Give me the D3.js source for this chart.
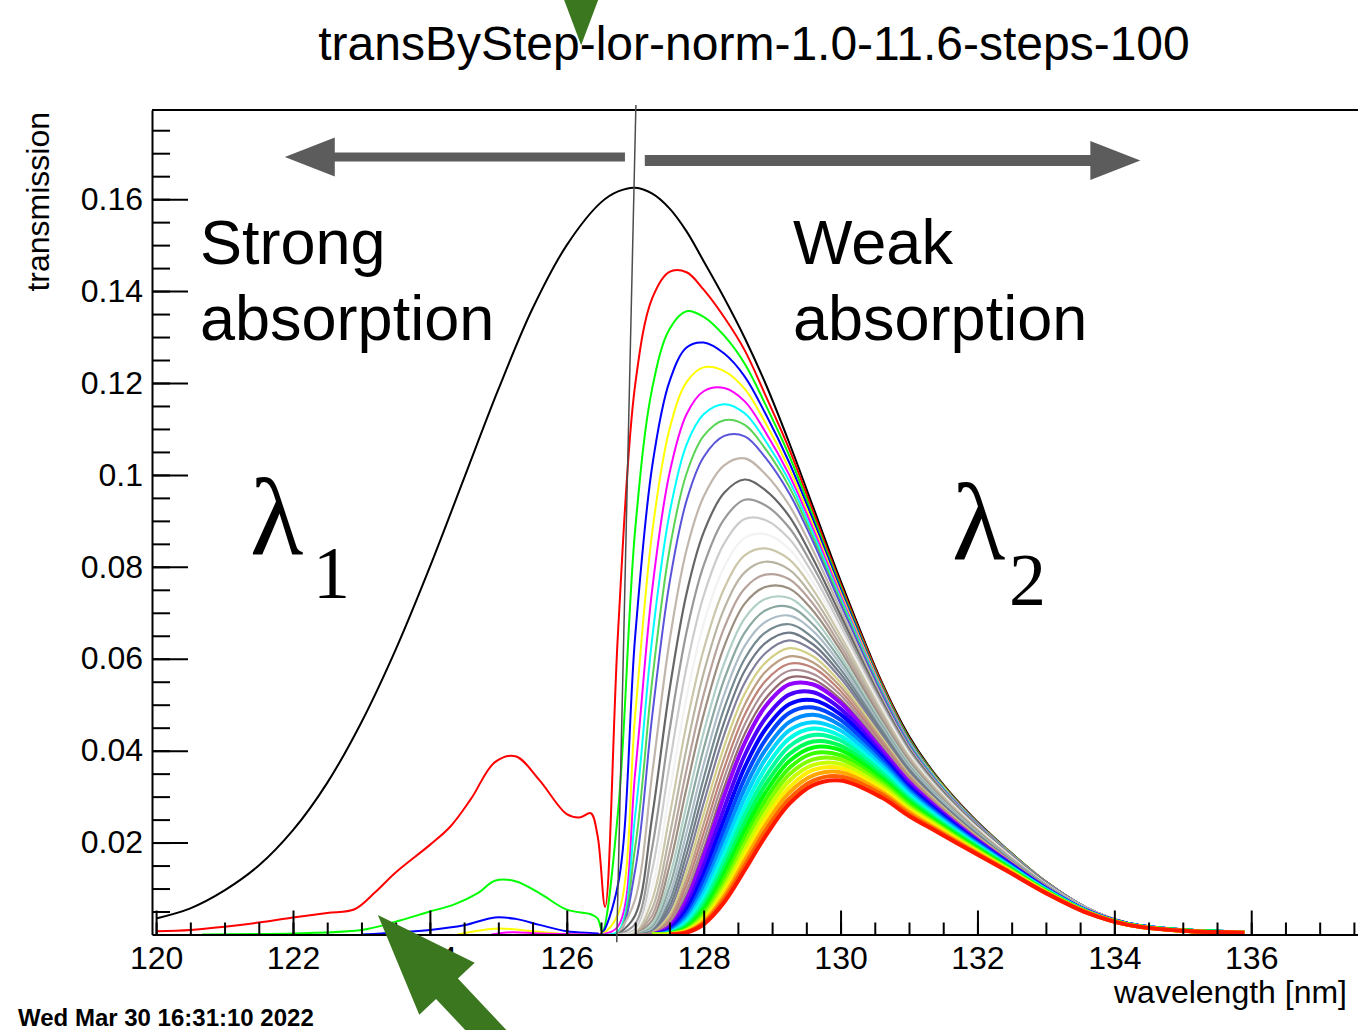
<!DOCTYPE html>
<html>
<head>
<meta charset="utf-8">
<script src="https://cdn.jsdelivr.net/npm/d3@7"></script>
<style>
  body { margin: 0; background: #fff; }
  svg { display: block; font-family: "Liberation Sans", Arial, Helvetica, sans-serif; }
</style>
</head>
<body>
<svg id="transChart"></svg>
<script>
// wavelength grid [nm] on which the right-hand lobes were read
const gridX = [126.5, 126.75, 127.0, 127.25, 127.5, 127.75, 128.0, 128.3, 128.6, 128.9, 129.25, 129.6, 130.0, 130.6, 131.0, 131.4, 131.9, 132.4, 133.0, 133.6, 134.2, 135.0, 135.9];

// reference spectrum (black, step 1)
const refX = [120, 120.5, 121, 121.5, 122, 122.5, 123, 123.5, 124, 124.5, 125, 125.5, 126, 126.5, 126.75, 127, 127.25, 127.5, 127.75, 128, 128.3, 128.6, 128.9, 129.25, 129.6, 130, 130.6, 131, 131.4, 131.9, 132.4, 133, 133.6, 134.2, 135, 135.9];
const refY = [0.0035, 0.0057, 0.0096, 0.015, 0.0227, 0.033, 0.0462, 0.062, 0.08, 0.0993, 0.1186, 0.1362, 0.15, 0.1593, 0.1617, 0.1625, 0.1612, 0.158, 0.153, 0.1465, 0.1385, 0.1298, 0.12, 0.107, 0.093, 0.077, 0.055, 0.0432, 0.0345, 0.026, 0.019, 0.0115, 0.0058, 0.0025, 0.0009, 0.0004];

// left-hand (strong absorption) parts of the first few steps
const redLeftX = [120, 120.5, 121, 121.5, 122, 122.5, 122.9, 123.2, 123.5, 124, 124.3, 124.6, 124.95, 125.25, 125.6, 126, 126.2, 126.35, 126.45, 126.56];
const redLeftY = [0.0007, 0.001, 0.0017, 0.0026, 0.0037, 0.0047, 0.0055, 0.0092, 0.0135, 0.0195, 0.0235, 0.0295, 0.0375, 0.0388, 0.0336, 0.0262, 0.0255, 0.0264, 0.0215, 0.006];
const greenLeftX = [120.67, 123.0, 123.5, 124.0, 124.35, 124.7, 124.95, 125.25, 125.6, 126.0, 126.35, 126.45, 126.52];
const greenLeftY = [0, 0.001, 0.0028, 0.005, 0.0065, 0.009, 0.0117, 0.0116, 0.009, 0.0054, 0.0044, 0.0035, 0.0007];
const blueLeftX = [123.0, 124.0, 124.5, 124.95, 125.25, 125.6, 126.0, 126.45];
const blueLeftY = [0, 0.001, 0.002, 0.0037, 0.0034, 0.0021, 0.0007, 0.0002];
const yellowLeftX = [124.4, 125.0, 125.5, 126.1];
const yellowLeftY = [0, 0.0013, 0.0007, 0];
const magentaLeftX = [124.9, 125.2, 125.6, 126.3];
const magentaLeftY = [0, 0.0005, 0.0002, 0];

// steps 2-9 (basic colours), values on gridX
const colourSteps = [2, 3, 4, 5, 6, 7, 8, 9];
const colourLobes = [
  [0, .0661, .1197, .1385, .1442, .1441, .1403, .1343, .1271, .1174, .1056, .0920, .0763, .0547, .0428, .0343, .0259, .0189, .0115, .0058, .0025, .0009, .0004],
  [0, .0269, .0882, .1190, .1317, .1356, .1344, .1303, .1242, .1154, .1042, .0910, .0757, .0543, .0426, .0342, .0258, .0189, .0115, .0058, .0025, .0009, .0004],
  [0, .0110, .0650, .1021, .1203, .1277, .1288, .1264, .1214, .1134, .1027, .0901, .0751, .0540, .0423, .0340, .0257, .0188, .0114, .0058, .0025, .0009, .0004],
  [0, .0045, .0479, .0877, .1099, .1202, .1234, .1226, .1187, .1114, .1013, .0891, .0744, .0537, .0421, .0339, .0256, .0188, .0114, .0058, .0025, .0009, .0004],
  [0, .0018, .0353, .0753, .1003, .1132, .1182, .1189, .1160, .1094, .1000, .0882, .0738, .0533, .0419, .0337, .0255, .0187, .0114, .0058, .0025, .0009, .0004],
  [0, .0007, .0260, .0647, .0915, .1066, .1132, .1154, .1134, .1075, .0987, .0872, .0732, .0530, .0417, .0336, .0254, .0186, .0113, .0058, .0025, .0009, .0004],
  [0, .0003, .0191, .0555, .0836, .1003, .1085, .1119, .1109, .1057, .0974, .0863, .0726, .0527, .0415, .0334, .0253, .0186, .0113, .0057, .0025, .0009, .0004],
  [0, .0001, .0141, .0478, .0764, .0944, .1039, .1085, .1084, .1038, .0960, .0854, .0719, .0524, .0413, .0333, .0253, .0185, .0113, .0057, .0025, .0009, .0004]
];

// grey / pastel steps
const greySteps = [11, 13, 15, 17, 19, 21, 23, 25, 27, 29, 31, 33, 35, 37, 39, 41, 43, 45, 47, 49];
const greyLobes = [
  [0, 0, .0077, .0352, .0637, .0837, .0953, .1021, .1036, .1002, .0934, .0835, .0707, .0516, .0408, .0330, .0251, .0184, .0112, .0057, .0025, .0009, .0004],
  [0, 0, .0042, .0259, .0531, .0742, .0875, .0961, .0990, .0967, .0910, .0817, .0695, .0510, .0404, .0327, .0249, .0183, .0112, .0057, .0025, .0009, .0004],
  [0, 0, .0023, .0191, .0443, .0658, .0803, .0904, .0946, .0934, .0885, .0800, .0684, .0504, .0400, .0324, .0247, .0182, .0111, .0057, .0025, .0009, .0004],
  [0, 0, .0012, .0142, .0369, .0582, .0737, .0851, .0904, .0902, .0861, .0783, .0672, .0498, .0396, .0321, .0245, .0181, .0110, .0057, .0025, .0009, .0004],
  [0, 0, .0007, .0104, .0308, .0516, .0676, .0800, .0863, .0871, .0839, .0766, .0661, .0492, .0392, .0318, .0244, .0180, .0110, .0056, .0025, .0009, .0004],
  [0, 0, .0004, .0077, .0257, .0458, .0620, .0753, .0825, .0840, .0816, .0750, .0650, .0486, .0388, .0316, .0242, .0178, .0109, .0056, .0024, .0009, .0004],
  [0, 0, .0002, .0057, .0214, .0405, .0569, .0709, .0788, .0811, .0794, .0734, .0639, .0480, .0384, .0313, .0240, .0177, .0109, .0056, .0024, .0009, .0004],
  [0, 0, 0, .0042, .0178, .0359, .0522, .0667, .0753, .0783, .0773, .0719, .0628, .0474, .0380, .0310, .0238, .0176, .0108, .0056, .0024, .0009, .0004],
  [0, 0, 0, .0031, .0149, .0319, .0479, .0627, .0720, .0756, .0753, .0704, .0618, .0467, .0376, .0308, .0237, .0175, .0108, .0055, .0024, .0009, .0004],
  [0, 0, 0, .0023, .0124, .0282, .0440, .0590, .0688, .0730, .0732, .0689, .0607, .0461, .0372, .0305, .0235, .0174, .0107, .0055, .0024, .0009, .0004],
  [0, 0, 0, .0017, .0103, .0251, .0404, .0555, .0657, .0705, .0713, .0674, .0597, .0456, .0368, .0303, .0233, .0173, .0107, .0055, .0024, .0009, .0004],
  [0, 0, 0, .0012, .0086, .0222, .0370, .0522, .0628, .0680, .0694, .0660, .0587, .0450, .0364, .0300, .0231, .0172, .0106, .0055, .0024, .0009, .0004],
  [0, 0, 0, .0009, .0072, .0196, .0340, .0492, .0600, .0657, .0675, .0645, .0577, .0445, .0360, .0297, .0230, .0171, .0105, .0053, .0024, .0009, .0004],
  [0, 0, 0, .0007, .0060, .0174, .0312, .0462, .0574, .0634, .0657, .0631, .0567, .0439, .0357, .0295, .0228, .0170, .0105, .0053, .0024, .0009, .0004],
  [0, 0, 0, .0005, .0050, .0154, .0286, .0435, .0548, .0612, .0640, .0618, .0558, .0434, .0353, .0292, .0226, .0169, .0104, .0053, .0023, .0009, .0004],
  [0, 0, 0, .0004, .0042, .0137, .0263, .0409, .0524, .0591, .0623, .0605, .0548, .0429, .0349, .0290, .0225, .0168, .0104, .0053, .0023, .0009, .0004],
  [0, 0, 0, .0003, .0035, .0121, .0241, .0385, .0500, .0571, .0605, .0592, .0539, .0424, .0346, .0287, .0223, .0168, .0103, .0053, .0023, .0009, .0004],
  [0, 0, 0, .0002, .0029, .0108, .0221, .0362, .0478, .0551, .0589, .0580, .0530, .0418, .0342, .0284, .0222, .0166, .0103, .0052, .0023, .0009, .0004],
  [0, 0, 0, .0002, .0024, .0095, .0203, .0341, .0457, .0532, .0574, .0567, .0521, .0412, .0339, .0282, .0220, .0165, .0102, .0052, .0023, .0009, .0004],
  [0, 0, 0, .0001, .0020, .0084, .0186, .0321, .0437, .0513, .0559, .0555, .0512, .0407, .0335, .0279, .0218, .0164, .0102, .0052, .0023, .0009, .0004]
];

// rainbow steps (violet -> red)
const rainbowSteps = [51, 54, 57, 60, 63, 66, 69, 72, 75, 78, 81, 84, 87, 90, 93, 96, 99];
const rainbowLobes = [
  [0, 0, 0, 0, .0017, .0075, .0171, .0302, .0417, .0496, .0544, .0544, .0504, .0402, .0332, .0277, .0217, .0163, .0101, .0052, .0023, .0009, .0004],
  [0, 0, 0, 0, .0013, .0063, .0150, .0275, .0390, .0470, .0522, .0527, .0491, .0395, .0326, .0273, .0214, .0162, .0101, .0052, .0023, .0009, .0004],
  [0, 0, 0, 0, .0010, .0053, .0132, .0251, .0364, .0446, .0501, .0510, .0479, .0388, .0321, .0270, .0212, .0160, .0100, .0051, .0023, .0009, .0004],
  [0, 0, 0, 0, .0008, .0044, .0116, .0229, .0340, .0423, .0482, .0494, .0467, .0381, .0316, .0266, .0210, .0159, .0099, .0051, .0023, .0009, .0004],
  [0, 0, 0, 0, .0006, .0037, .0102, .0209, .0318, .0401, .0462, .0478, .0455, .0374, .0312, .0262, .0208, .0157, .0099, .0051, .0023, .0009, .0004],
  [0, 0, 0, 0, .0004, .0031, .0090, .0191, .0297, .0381, .0444, .0462, .0444, .0367, .0307, .0259, .0205, .0156, .0098, .0050, .0022, .0009, .0004],
  [0, 0, 0, 0, .0003, .0026, .0079, .0174, .0277, .0361, .0426, .0448, .0432, .0360, .0302, .0255, .0203, .0154, .0097, .0050, .0022, .0009, .0004],
  [0, 0, 0, 0, .0003, .0021, .0069, .0159, .0259, .0342, .0409, .0434, .0422, .0353, .0297, .0252, .0201, .0153, .0096, .0050, .0022, .0009, .0004],
  [0, 0, 0, 0, .0002, .0018, .0061, .0145, .0242, .0325, .0392, .0420, .0411, .0346, .0293, .0249, .0199, .0152, .0095, .0049, .0022, .0009, .0004],
  [0, 0, 0, 0, .0002, .0015, .0054, .0133, .0226, .0308, .0377, .0407, .0401, .0340, .0288, .0245, .0197, .0150, .0095, .0049, .0022, .0009, .0004],
  [0, 0, 0, 0, .0001, .0012, .0047, .0121, .0211, .0292, .0362, .0394, .0390, .0334, .0284, .0242, .0194, .0149, .0094, .0049, .0022, .0008, .0004],
  [0, 0, 0, 0, .0001, .0010, .0041, .0110, .0197, .0277, .0348, .0381, .0381, .0328, .0279, .0240, .0192, .0147, .0093, .0049, .0022, .0008, .0004],
  [0, 0, 0, 0, .0001, .0009, .0036, .0101, .0184, .0263, .0334, .0369, .0371, .0322, .0275, .0237, .0190, .0146, .0093, .0048, .0021, .0008, .0004],
  [0, 0, 0, 0, 0, .0007, .0032, .0092, .0172, .0250, .0320, .0358, .0362, .0316, .0271, .0234, .0188, .0145, .0092, .0048, .0021, .0008, .0004],
  [0, 0, 0, 0, 0, .0006, .0028, .0084, .0161, .0237, .0308, .0346, .0353, .0310, .0267, .0230, .0186, .0143, .0091, .0048, .0021, .0008, .0004],
  [0, 0, 0, 0, 0, .0005, .0025, .0077, .0150, .0225, .0295, .0335, .0344, .0305, .0262, .0227, .0184, .0142, .0091, .0048, .0021, .0008, .0004],
  [0, 0, 0, 0, 0, .0004, .0022, .0070, .0140, .0213, .0284, .0325, .0335, .0298, .0258, .0224, .0182, .0141, .0090, .0047, .0021, .0008, .0004]
];

// axis ticks
const xTickValues = [120, 122, 124, 126, 128, 130, 132, 134, 136];
const xTickLabels = ["120", "122", "124", "126", "128", "130", "132", "134", "136"];
const yTickValues = [0.02, 0.04, 0.06, 0.08, 0.1, 0.12, 0.14, 0.16];
const yTickLabels = ["0.02", "0.04", "0.06", "0.08", "0.1", "0.12", "0.14", "0.16"];

// ROOT colour indices used above
const rootColours = {
  1: "#000000", 2: "#ff0000", 3: "#00ff00", 4: "#0000ff", 5: "#ffff00", 6: "#ff00ff",
  7: "#00ffff", 8: "#59d454", 9: "#5954d9", 11: "#c0b6ac", 13: "#666666", 15: "#999999",
  17: "#cccccc", 19: "#f2f2f2", 21: "#ccc7ab", 23: "#bab5a3", 25: "#b8a39c", 27: "#9c8f82",
  29: "#b0cfc7", 31: "#8aa8a1", 33: "#adbdc7", 35: "#758a91", 37: "#6e7a85", 39: "#80809c",
  41: "#d4cf87", 43: "#bd9e82", 45: "#bf8278", 47: "#ab8f94", 49: "#946970"
};

function stepColour(k) {
  if (k > 50) return d3.hsl(280 - (k - 50) * 5.6, 1, 0.5).toString();
  return rootColours[k];
}

function getChartConfig() {
  const dimensions = {
    width: 1358,
    height: 1030,
    margin: { top: 110, bottom: 95.5, left: 152, right: 0 }
  };
  const chart = d3.select("#transChart")
    .attr("width", dimensions.width)
    .attr("height", dimensions.height);
  return { dimensions, container: chart };
}

function getScales(config) {
  const { dimensions } = config;
  const xScale = d3.scaleLinear()
    .domain([119.94, 137.56])
    .range([dimensions.margin.left, dimensions.width - dimensions.margin.right]);
  const yScale = d3.scaleLinear()
    .domain([0, 0.1794])
    .range([dimensions.height - dimensions.margin.bottom, dimensions.margin.top]);
  return { xScale, yScale };
}

function zip(xs, ys) {
  return xs.map((x, i) => [x, ys[i]]);
}

// lobe values start with zeros; keep only the last zero before the rise
function lobePoints(row) {
  const first = row.findIndex(v => v > 0);
  const start = Math.max(first - 1, 0);
  return gridX.slice(start).map((x, i) => [x, row[start + i]]);
}

function withLeft(leftX, leftY, row) {
  const lastX = leftX[leftX.length - 1];
  const right = zip(gridX, row).filter(p => p[0] > lastX);
  return zip(leftX, leftY).concat(right);
}

function buildCurves() {
  const lefts = {
    2: [redLeftX, redLeftY],
    3: [greenLeftX, greenLeftY],
    4: [blueLeftX, blueLeftY],
    5: [yellowLeftX, yellowLeftY],
    6: [magentaLeftX, magentaLeftY]
  };
  const curves = [{ step: 1, points: zip(refX, refY), width: 2 }];
  colourSteps.forEach((k, i) => {
    const pts = lefts[k] ? withLeft(lefts[k][0], lefts[k][1], colourLobes[i]) : lobePoints(colourLobes[i]);
    curves.push({ step: k, points: pts, width: 2 });
  });
  greySteps.forEach((k, i) => curves.push({ step: k, points: lobePoints(greyLobes[i]), width: 2.2 }));
  rainbowSteps.forEach((k, i) => curves.push({ step: k, points: lobePoints(rainbowLobes[i]), width: 4 }));
  return curves;
}

function drawCurves(config, scales) {
  const { container, dimensions } = config;
  const { xScale, yScale } = scales;
  const line = d3.line()
    .x(d => xScale(d[0]))
    .y(d => yScale(d[1]))
    .curve(d3.curveCatmullRom.alpha(0.5));

  container.append("clipPath")
    .attr("id", "plotClip")
    .append("rect")
    .attr("x", dimensions.margin.left)
    .attr("y", dimensions.margin.top)
    .attr("width", dimensions.width - dimensions.margin.left)
    .attr("height", dimensions.height - dimensions.margin.bottom - dimensions.margin.top + 1);

  container.append("g")
    .attr("clip-path", "url(#plotClip)")
    .selectAll("path")
    .data(buildCurves())
    .join("path")
    .attr("d", d => line(d.points))
    .attr("fill", "none")
    .attr("stroke", d => stepColour(d.step))
    .attr("stroke-width", d => d.width)
    .attr("stroke-linejoin", "round");
}

function drawAxes(config, scales) {
  const { container, dimensions } = config;
  const { xScale, yScale } = scales;
  const y0 = dimensions.height - dimensions.margin.bottom;
  const x0 = dimensions.margin.left;

  const axisX = d3.axisBottom(xScale)
    .tickValues(xTickValues)
    .tickFormat((d, i) => xTickLabels[i])
    .tickSize(-24)
    .tickSizeOuter(0)
    .tickPadding(12);
  const gx = container.append("g")
    .attr("transform", `translate(0, ${y0})`)
    .call(axisX);

  const minorX = d3.axisBottom(xScale)
    .tickValues(d3.range(120, 137.6, 0.5))
    .tickFormat("")
    .tickSize(-12)
    .tickSizeOuter(0);
  container.append("g")
    .attr("class", "minor")
    .attr("transform", `translate(0, ${y0})`)
    .call(minorX);

  const axisY = d3.axisLeft(yScale)
    .tickValues(yTickValues)
    .tickFormat((d, i) => yTickLabels[i])
    .tickSize(-36)
    .tickSizeOuter(0)
    .tickPadding(9);
  const gy = container.append("g")
    .attr("transform", `translate(${x0}, 0)`)
    .call(axisY);

  const minorY = d3.axisLeft(yScale)
    .tickValues(d3.range(0.005, 0.1776, 0.005))
    .tickFormat("")
    .tickSize(-18)
    .tickSizeOuter(0);
  container.append("g")
    .attr("class", "minor")
    .attr("transform", `translate(${x0}, 0)`)
    .call(minorY);

  container.selectAll(".minor .domain").remove();
  container.selectAll(".domain, .tick line").attr("stroke", "#000").attr("stroke-width", 2);
  [gx, gy].forEach(g => g.selectAll("text")
    .attr("font-size", 32)
    .attr("font-family", "Liberation Sans, Arial, sans-serif")
    .attr("fill", "#000"));

  // top frame line
  container.append("line")
    .attr("x1", x0).attr("x2", dimensions.width)
    .attr("y1", dimensions.margin.top).attr("y2", dimensions.margin.top)
    .attr("stroke", "#000").attr("stroke-width", 2);

  container.append("text")
    .attr("x", 1347).attr("y", 1003)
    .attr("text-anchor", "end")
    .attr("font-size", 32)
    .text("wavelength [nm]");

  container.append("text")
    .attr("transform", "translate(49, 112) rotate(-90)")
    .attr("text-anchor", "end")
    .attr("font-size", 32)
    .text("transmission");
}

function arrowPolygon(tail, tip, headLen, headHalf, shaftHalf) {
  const dx = tip[0] - tail[0], dy = tip[1] - tail[1];
  const len = Math.hypot(dx, dy);
  const ux = dx / len, uy = dy / len;
  const nx = -uy, ny = ux;
  const bx = tip[0] - ux * headLen, by = tip[1] - uy * headLen;
  return [
    [tail[0] + nx * shaftHalf, tail[1] + ny * shaftHalf],
    [bx + nx * shaftHalf, by + ny * shaftHalf],
    [bx + nx * headHalf, by + ny * headHalf],
    tip,
    [bx - nx * headHalf, by - ny * headHalf],
    [bx - nx * shaftHalf, by - ny * shaftHalf],
    [tail[0] - nx * shaftHalf, tail[1] - ny * shaftHalf]
  ];
}

function drawAnnotations(config, scales) {
  const { container } = config;
  const { xScale, yScale } = scales;
  const px = p => [xScale(p[0]), yScale(p[1])];

  container.append("text")
    .attr("x", 754).attr("y", 60)
    .attr("text-anchor", "middle")
    .attr("font-size", 48)
    .text("transByStep-lor-norm-1.0-11.6-steps-100");

  container.append("text")
    .attr("x", 18).attr("y", 1026)
    .attr("font-size", 24)
    .attr("font-weight", "bold")
    .text("Wed Mar 30 16:31:10 2022");

  // divider between the two regimes
  container.append("line")
    .attr("x1", xScale(127.01)).attr("y1", yScale(0.1805))
    .attr("x2", xScale(126.73)).attr("y2", yScale(-0.0017))
    .attr("stroke", "#4d4d4d").attr("stroke-width", 1.5);

  const grey = "#5c5c5c";
  [
    { tail: [126.85, 0.1692], tip: [121.88, 0.1692], shaft: 4.5 },
    { tail: [127.14, 0.1684], tip: [134.38, 0.1684], shaft: 5.5 }
  ].forEach(a => {
    container.append("polygon")
      .attr("points", arrowPolygon(px(a.tail), px(a.tip), 50, 19.5, a.shaft).join(" "))
      .attr("fill", grey);
  });

  const words = [
    { x: 200, y: 264, t: "Strong" },
    { x: 200, y: 340, t: "absorption" },
    { x: 793, y: 264, t: "Weak" },
    { x: 793, y: 340, t: "absorption" }
  ];
  container.append("g").selectAll("text")
    .data(words).join("text")
    .attr("x", d => d.x).attr("y", d => d.y)
    .attr("font-size", 63)
    .text(d => d.t);

  const serif = "Liberation Serif, Times New Roman, serif";
  const lambdas = [
    { x: 250, y: 555, sx: 313, sy: 598, sub: "1" },
    { x: 952, y: 560, sx: 1009, sy: 605, sub: "2" }
  ];
  lambdas.forEach(l => {
    container.append("text").attr("x", l.x).attr("y", l.y)
      .attr("font-family", serif).attr("font-size", 110).text("\u03bb");
    container.append("text").attr("x", l.sx).attr("y", l.sy)
      .attr("font-family", serif).attr("font-size", 74).text(l.sub);
  });

  const green = "#3b771f";
  [
    { tail: [126.21, 0.236], tip: [126.21, 0.1935] },
    { tail: [125.24, -0.0275], tip: [123.24, 0.00424] }
  ].forEach(a => {
    container.append("polygon")
      .attr("points", arrowPolygon(px(a.tail), px(a.tip), 101, 38, 15).join(" "))
      .attr("fill", green);
  });
}

function renderTransmission() {
  const config = getChartConfig();
  const scales = getScales(config);
  drawCurves(config, scales);
  drawAxes(config, scales);
  drawAnnotations(config, scales);
}

renderTransmission();
</script>
</body>
</html>
